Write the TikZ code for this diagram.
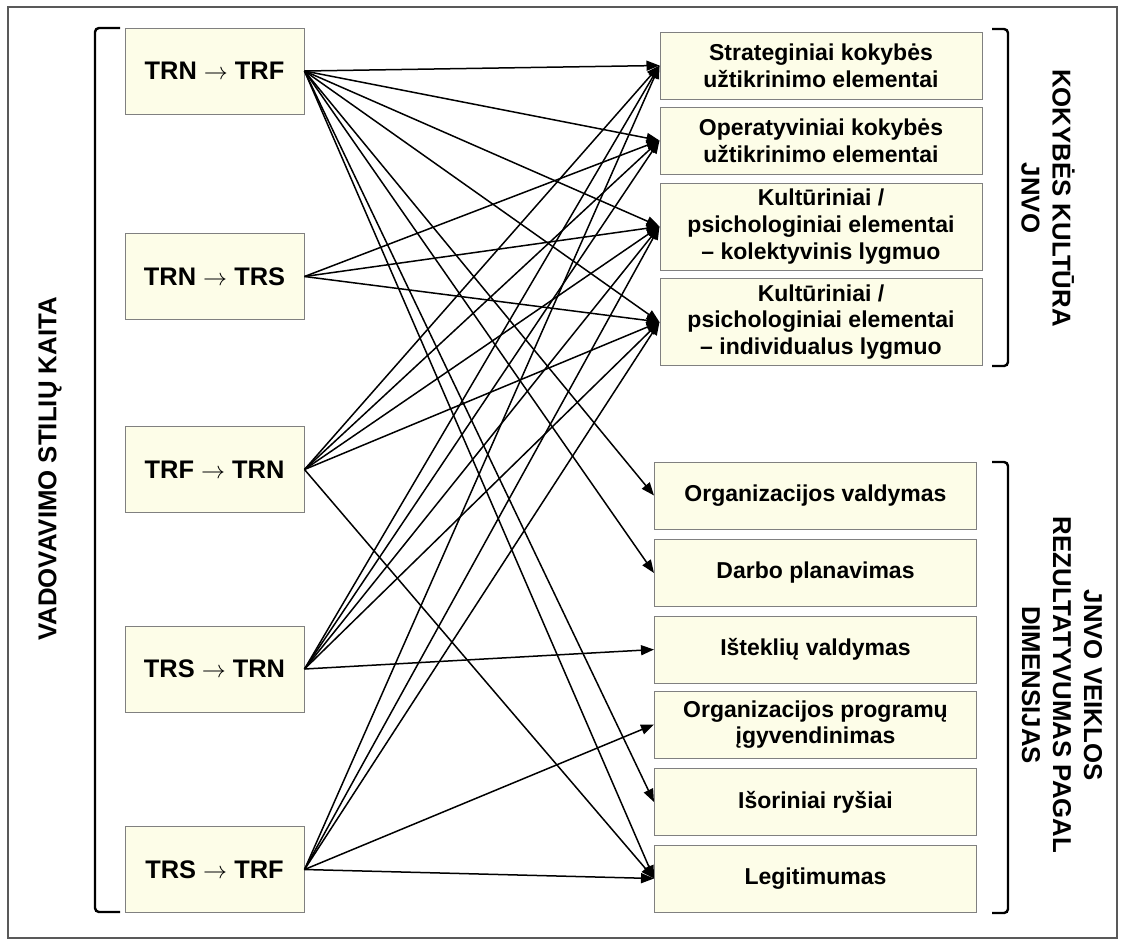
\documentclass[tikz,border=0pt]{standalone}
\usepackage{fontspec}
\setmainfont{Liberation Sans}
\usetikzlibrary{arrows.meta}
\definecolor{boxfill}{RGB}{253,253,232}
\definecolor{boxline}{RGB}{128,128,128}

\begin{document}
\begin{tikzpicture}[x=0.5pt,y=-0.5pt,
        lbox/.style={draw=boxline,fill=boxfill,line width=0.5pt,minimum width=89.5pt,minimum height=43pt,inner sep=0pt,font=\fontsize{12.7}{15}\selectfont\bfseries},
        rbox/.style={draw=boxline,fill=boxfill,line width=0.5pt,minimum width=161pt,minimum height=33.5pt,inner sep=0pt,align=center,font=\fontsize{11.5}{13.3}\selectfont\bfseries},
        tall/.style={minimum height=43.5pt},
        conn/.style={line width=0.75pt,-{Triangle[length=6.5pt,width=5pt]}},
        brak/.style={line width=1.2pt,rounded corners=2pt},
        side/.style={align=center,font=\fontsize{12.9}{15.5}\selectfont\bfseries}]
        \useasboundingbox (0,0) rectangle (1125,944);
        \draw[gray!70!black,line width=0.7pt] (8,7) rectangle (1117,938);
        % vadovavimo stiliai
        \node[lbox](trnf) at (214.5,71) {TRN $\rightarrow$ TRF};
        \node[lbox](trns) at (214.5,276.5) {TRN $\rightarrow$ TRS};
        \node[lbox](trfn) at (214.5,469.5) {TRF $\rightarrow$ TRN};
        \node[lbox](trsn) at (214.5,669) {TRS $\rightarrow$ TRN};
        \node[lbox](trsf) at (214.5,869.5) {TRS $\rightarrow$ TRF};
        % kokybes kultura
        \node[rbox](strat) at (821,65.5) {Strateginiai kokybės\\užtikrinimo elementai};
        \node[rbox](oper) at (821,140.5) {Operatyviniai kokybės\\užtikrinimo elementai};
        \node[rbox,tall](kolekt) at (821,226.5) {Kultūriniai /\\psichologiniai elementai\\– kolektyvinis lygmuo};
        \node[rbox,tall](indiv) at (821,322) {Kultūriniai /\\psichologiniai elementai\\– individualus lygmuo};
        % veiklos dimensijos
        \node[rbox](orgvald) at (815.5,495.5) {Organizacijos valdymas};
        \node[rbox](planav) at (815.5,573) {Darbo planavimas};
        \node[rbox](istekl) at (815.5,649.5) {Išteklių valdymas};
        \node[rbox](progr) at (815.5,724.5) {Organizacijos programų\\įgyvendinimas};
        \node[rbox](isor) at (815.5,802) {Išoriniai ryšiai};
        \node[rbox](legit) at (815.5,878.5) {Legitimumas};
        % skliaustai ir antrastes
        \draw[brak] (120,28) -- (95,28) -- (95,912) -- (120,912);
        \draw[brak] (992,29) -- (1008,29) -- (1008,366) -- (992,366);
        \draw[brak] (992,462) -- (1008,462) -- (1008,913) -- (992,913);
        \node[side,rotate=90](kaita) at (50,469) {VADOVAVIMO STILIŲ KAITA};
        \node[side,rotate=-90](kultura) at (1048,198) {KOKYBĖS KULTŪRA\\JNVO};
        \node[side,rotate=-90](veikla) at (1062,685) {JNVO VEIKLOS\\REZULTATYVUMAS PAGAL\\DIMENSIJAS};
        % rysiai
        \draw[conn](trnf.east)--(strat.west);
        \draw[conn](trnf.east)--(oper.west);
        \draw[conn](trnf.east)--(kolekt.west);
        \draw[conn](trnf.east)--(indiv.west);
        \draw[conn](trnf.east)--(orgvald.west);
        \draw[conn](trnf.east)--(planav.west);
        \draw[conn](trnf.east)--(isor.west);
        \draw[conn](trnf.east)--(legit.west);
        \draw[conn](trns.east)--(oper.west);
        \draw[conn](trns.east)--(kolekt.west);
        \draw[conn](trns.east)--(indiv.west);
        \draw[conn](trfn.east)--(strat.west);
        \draw[conn](trfn.east)--(oper.west);
        \draw[conn](trfn.east)--(kolekt.west);
        \draw[conn](trfn.east)--(indiv.west);
        \draw[conn](trfn.east)--(legit.west);
        \draw[conn](trsn.east)--(strat.west);
        \draw[conn](trsn.east)--(oper.west);
        \draw[conn](trsn.east)--(kolekt.west);
        \draw[conn](trsn.east)--(indiv.west);
        \draw[conn](trsn.east)--(istekl.west);
        \draw[conn](trsf.east)--(strat.west);
        \draw[conn](trsf.east)--(kolekt.west);
        \draw[conn](trsf.east)--(indiv.west);
        \draw[conn](trsf.east)--(progr.west);
        \draw[conn](trsf.east)--(legit.west);
\end{tikzpicture}
\end{document}
